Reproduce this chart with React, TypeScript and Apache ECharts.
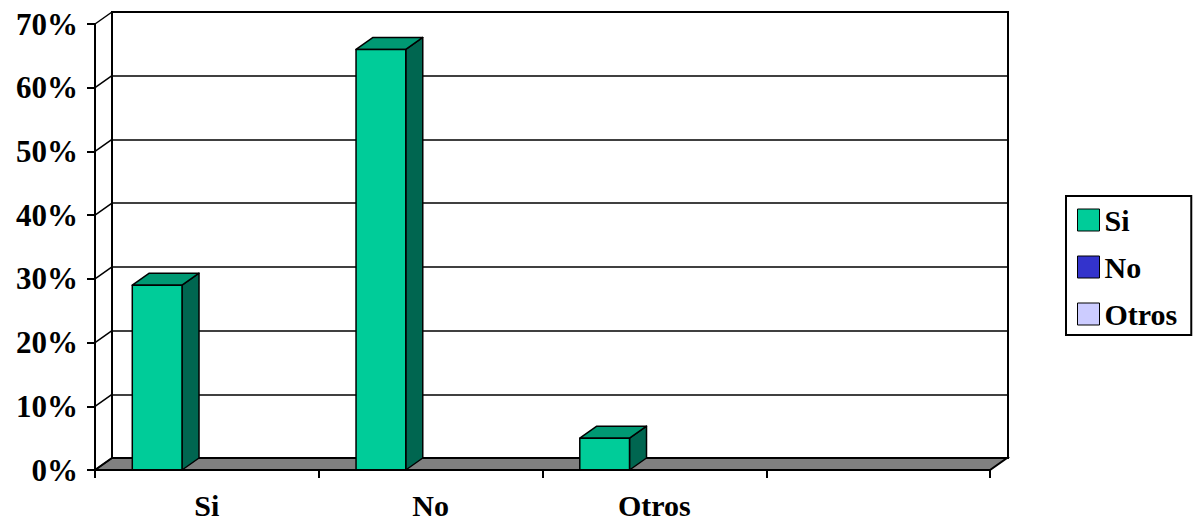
import React, { useEffect, useRef } from "react";
import * as echarts from "echarts";

const categories = ["Si", "No", "Otros", ""];
const seriesNames = ["Si", "No", "Otros"];
const siValues: (number | null)[] = [0.29, 0.66, 0.05, null];
const noValues: (number | null)[] = [0, 0, 0, null];
const otrosValues: (number | null)[] = [0, 0, 0, null];
const yMax = 0.7;
const yInterval = 0.1;
const yTickValues = [0, 0.1, 0.2, 0.3, 0.4, 0.5, 0.6, 0.7];

const DX = 17;
const DY = -12;
const FONT = "'Liberation Serif', 'Times New Roman', serif";

const seriesColors = [
  { front: "#00CC99", top: "#009973", side: "#006650" },
  { front: "#3333CC", top: "#26269A", side: "#1A1A66" },
  { front: "#CCCCFF", top: "#9999BF", side: "#666680" },
];

export default function App() {
  const ref = useRef<HTMLDivElement>(null);
  useEffect(() => {
    document.body.style.margin = "0";
    const chart = echarts.init(ref.current!, undefined, { renderer: "svg" });

    const makeBarSeries = (name: string, values: (number | null)[], si: number) => ({
      type: "custom",
      name,
      xAxisIndex: 0,
      yAxisIndex: 0,
      itemStyle: { color: seriesColors[si].front },
      z: 5,
      encode: { x: 0, y: 1 },
      data: categories.map((_, i) => [i, values[i]]),
      renderItem: (params: any, api: any) => {
        const idx = api.value(0);
        const val = api.value(1);
        if (val == null || isNaN(val) || val === 0) return null;
        const top = api.coord([idx, val]);
        const base = api.coord([idx, 0]);
        const band = api.size([1, 0])[0];
        const w = band / 4.5;
        const left = top[0] - band / 2 + 0.75 * w + si * w;
        const c = seriesColors[si];
        const stroke = { stroke: "#000", lineWidth: 1.5, lineJoin: "round" };
        return {
          type: "group",
          children: [
            {
              type: "polygon",
              shape: {
                points: [
                  [left + w, top[1]],
                  [left + w + DX, top[1] + DY],
                  [left + w + DX, base[1] + DY],
                  [left + w, base[1]],
                ],
              },
              style: { fill: c.side, ...stroke },
            },
            {
              type: "polygon",
              shape: {
                points: [
                  [left, top[1]],
                  [left + w, top[1]],
                  [left + w + DX, top[1] + DY],
                  [left + DX, top[1] + DY],
                ],
              },
              style: { fill: c.top, ...stroke },
            },
            {
              type: "rect",
              shape: { x: left, y: top[1], width: w, height: base[1] - top[1] },
              style: { fill: c.front, ...stroke },
            },
          ],
        };
      },
    });

    const option: any = {
      animation: false,
      backgroundColor: "#fff",
      grid: [
        { left: 95, right: 206, top: 24, bottom: 50, containLabel: false },
        {
          left: 112,
          right: 188,
          top: 12,
          bottom: 62,
          show: true,
          borderColor: "#000",
          borderWidth: 2,
          backgroundColor: "#fff",
          z: 0,
        },
      ],
      xAxis: [
        {
          type: "category",
          gridIndex: 0,
          data: categories,
          boundaryGap: true,
          axisLine: { show: true, lineStyle: { color: "#000", width: 2 } },
          axisTick: { show: true, length: 8, interval: 0, lineStyle: { color: "#000", width: 2 } },
          axisLabel: {
            interval: 0,
            margin: 20,
            color: "#000",
            fontFamily: FONT,
            fontWeight: "bold",
            fontSize: 30,
            lineHeight: 30,
          },
          splitLine: { show: false },
          z: 10,
        },
        {
          type: "value",
          gridIndex: 1,
          min: 0,
          max: 1,
          show: false,
        },
      ],
      yAxis: [
        {
          type: "value",
          gridIndex: 0,
          min: 0,
          max: yMax,
          interval: yInterval,
          axisLine: { show: true, lineStyle: { color: "#000", width: 2 } },
          axisTick: { show: true, length: 8, lineStyle: { color: "#000", width: 2 } },
          axisLabel: {
            margin: 17,
            color: "#000",
            fontFamily: FONT,
            fontWeight: "bold",
            fontSize: 31,
            formatter: (v: number) => `${Math.round(v * 100)}%`,
          },
          splitLine: { show: false },
          z: 10,
        },
        {
          type: "value",
          gridIndex: 1,
          min: 0,
          max: yMax,
          interval: yInterval,
          axisLine: { show: false },
          axisTick: { show: false },
          axisLabel: { show: false },
          splitLine: { show: true, lineStyle: { color: "#000", width: 1.5 } },
        },
      ],
      legend: {
        data: seriesNames,
        orient: "vertical",
        left: 1066,
        top: 196,
        padding: [9, 14, 6, 11],
        itemGap: 17,
        itemWidth: 22,
        itemHeight: 22,
        icon: "rect",
        borderColor: "#000",
        borderWidth: 2,
        itemStyle: { borderColor: "#000", borderWidth: 1 },
        textStyle: {
          color: "#000",
          fontFamily: FONT,
          fontWeight: "bold",
          fontSize: 30,
          lineHeight: 30,
        },
      },
      series: [
        {
          type: "custom",
          name: "floor",
          xAxisIndex: 0,
          yAxisIndex: 0,
          z: 2,
          silent: true,
          encode: { x: 0, y: 1 },
          data: [[0, 0]],
          renderItem: (params: any, api: any) => {
            const cs = params.coordSys;
            const y0 = api.coord([0, 0])[1];
            const x0 = cs.x;
            const x1 = cs.x + cs.width;
            return {
              type: "polygon",
              shape: {
                points: [
                  [x0, y0],
                  [x1, y0],
                  [x1 + DX, y0 + DY],
                  [x0 + DX, y0 + DY],
                ],
              },
              style: { fill: "#808080", stroke: "#000", lineWidth: 2 },
            };
          },
        },
        {
          type: "custom",
          name: "sidewall",
          xAxisIndex: 0,
          yAxisIndex: 0,
          z: 2,
          silent: true,
          encode: { x: 0, y: 1 },
          data: yTickValues.map((v) => [0, v]),
          renderItem: (params: any, api: any) => {
            const cs = params.coordSys;
            const y = api.coord([0, api.value(1)])[1];
            return {
              type: "line",
              shape: { x1: cs.x, y1: y, x2: cs.x + DX, y2: y + DY },
              style: { stroke: "#000", lineWidth: 1.5 },
            };
          },
        },
        makeBarSeries("Si", siValues, 0),
        makeBarSeries("No", noValues, 1),
        makeBarSeries("Otros", otrosValues, 2),
      ],
    };
    chart.setOption(option);
    return () => chart.dispose();
  }, []);
  return <div ref={ref} style={{ width: 1196, height: 520 }} />;
}
